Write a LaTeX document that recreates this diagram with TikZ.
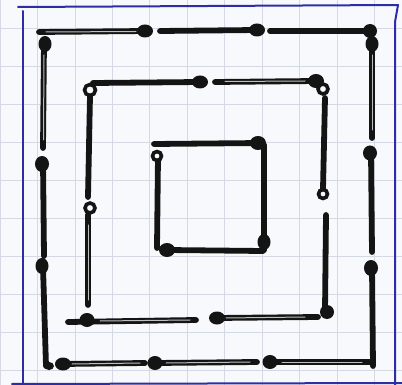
\documentclass[tikz,border=0pt]{standalone}
\definecolor{paper}{RGB}{248,249,253}
\definecolor{gridc}{RGB}{212,217,228}
\definecolor{marginc}{RGB}{45,45,165}
\begin{document}
\begin{tikzpicture}[x=1pt,y=-1pt,
  stick/.style={line width=5.8pt,line cap=round,black!92},
  hollow/.style={line width=1pt,gray!50,line cap=round},
  gridl/.style={gridc,line width=0.8pt},
  blueline/.style={marginc,line width=2pt,line cap=round,line join=round},
  headh/.style={fill=black!92},
  ring/.style={draw=black!92,line width=3.6pt,fill=paper}]
\useasboundingbox (0,0) rectangle (402,385);
\fill[paper] (0,0) rectangle (402,385);
% grid
\foreach \x in {0,37.5,75,112,149.5,187,224.5,262,299.5,337,374.5}
  \draw[gridl] (\x,0) -- (\x,385);
\foreach \y in {28,66,104,142,180,218,256,294,332,370}
  \draw[gridl] (0,\y) -- (402,\y);
% blue margin
\draw[blueline] (18,7) -- (398,5);
\draw[blueline] (23,11) -- (23,385);
\draw[blueline] (398,5) -- (395,22) -- (395,385);
\draw[blueline] (12,384) -- (402,383);
% outer square
\draw[stick] (39,32) -- (146,31);
\draw[stick] (160,31) -- (257,30);
\draw[stick] (270,31) -- (370,31);
\draw[stick] (372,43) -- (372,138);
\draw[stick] (371,152) -- (372,252);
\draw[stick] (372,267) -- (373,366);
\draw[stick] (44,42) -- (43,148);
\draw[stick] (43,162) -- (44,256);
\draw[stick] (43,267) -- (46,366);
\draw[stick] (62,364) -- (145,363);
\draw[stick] (156,363) -- (257,362);
\draw[stick] (270,362) -- (370,362);
\draw[hollow] (46,32) -- (136,31.5);
\draw[hollow] (44,55) -- (43.5,140);
\draw[hollow] (372,55) -- (372,130);
\draw[hollow] (72,364) -- (140,363);
\draw[hollow] (166,363) -- (250,362);
\draw[hollow] (282,362) -- (362,362);
\fill[headh] (145,31) ellipse [x radius=8pt,y radius=6.5pt];
\fill[headh] (257,30) ellipse [x radius=8pt,y radius=6.5pt];
\fill[headh] (370,31) ellipse [x radius=7pt,y radius=7pt];
\fill[headh] (372,44) ellipse [x radius=6.5pt,y radius=8pt];
\fill[headh] (370,153) ellipse [x radius=7pt,y radius=7.5pt];
\fill[headh] (371,268) ellipse [x radius=7pt,y radius=8pt];
\fill[headh] (45,44) ellipse [x radius=6.5pt,y radius=8pt];
\fill[headh] (42,164) ellipse [x radius=7pt,y radius=8pt];
\fill[headh] (42,266) ellipse [x radius=6.5pt,y radius=8pt];
\fill[headh] (63,364) ellipse [x radius=8pt,y radius=6.5pt];
\fill[headh] (155,363) ellipse [x radius=7.5pt,y radius=7pt];
\fill[headh] (270,362) ellipse [x radius=7.5pt,y radius=7pt];
\fill[headh] (49,366) ellipse [x radius=5pt,y radius=4pt];
% middle square
\draw[stick] (93,83) -- (200,82);
\draw[stick] (215,82) -- (316,81);
\draw[stick] (90,96) -- (88,197);
\draw[stick] (88,215) -- (88,305);
\draw[stick] (68,322) -- (196,320);
\draw[stick] (217,318) -- (318,317);
\draw[stick] (325,98) -- (323,189);
\draw[stick] (326,215) -- (325,312);
\draw[hollow] (225,81.5) -- (305,81);
\draw[hollow] (88,225) -- (88,300);
\draw[hollow] (100,321) -- (190,320);
\draw[hollow] (226,318) -- (305,317);
\fill[headh] (200,82) ellipse [x radius=8pt,y radius=6.5pt];
\fill[headh] (316,81) ellipse [x radius=8pt,y radius=7pt];
\fill[headh] (87,320) ellipse [x radius=7.5pt,y radius=7pt];
\fill[headh] (217,318) ellipse [x radius=8pt,y radius=6.5pt];
\fill[headh] (327,312) ellipse [x radius=7pt,y radius=7pt];
\draw[ring] (90,90) circle [radius=5.5pt];
\draw[ring] (323,89) circle [radius=5pt];
\draw[ring] (90,208) circle [radius=5pt];
\draw[ring] (323,194) circle [radius=4.5pt];
% inner square
\draw[stick] (154,144) -- (262,143);
\draw[stick] (158,157) -- (157,248);
\draw[stick] (167,250) -- (263,251);
\draw[stick] (264,145) -- (264,250);
\fill[headh] (258,143) ellipse [x radius=8pt,y radius=7pt];
\fill[headh] (167,250) ellipse [x radius=8pt,y radius=7pt];
\fill[headh] (264,242) ellipse [x radius=6.5pt,y radius=8pt];
\draw[ring] (157,156) circle [radius=4.5pt];
\end{tikzpicture}
\end{document}
